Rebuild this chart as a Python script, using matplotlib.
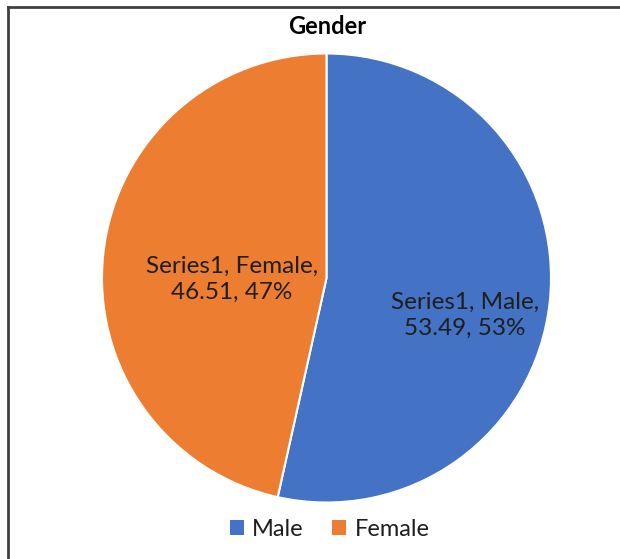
import matplotlib
matplotlib.use("Agg")
import matplotlib.pyplot as plt
from matplotlib.patches import Patch
from matplotlib.lines import Line2D

plt.rcParams['font.family'] = ['Lato', 'DejaVu Sans']

title = "Gender"
series_name = "Series1"
categories = ["Male", "Female"]
values = [53.49, 46.51]
colors = ["#4472C4", "#ED7D31"]

fig = plt.figure(figsize=(6.2, 5.59), dpi=100)
W, H = 620, 559
cx, cy, r = 326.5, 278, 224.5
ax = fig.add_axes([(cx - r) / W, (H - cy - r) / H, 2 * r / W, 2 * r / H])
wedges, _ = ax.pie(values, colors=colors, startangle=90, counterclock=False,
                   radius=1, wedgeprops=dict(edgecolor="white", linewidth=1.5))
ax.set_xlim(-1, 1)
ax.set_ylim(-1, 1)
ax.set_aspect("equal")
ax.axis("off")

total = sum(values)
label_pos = [(0.616, -0.165), (-0.421, -0.005)]
for cat, v, (x, y) in zip(categories, values, label_pos):
    pct = round(v / total * 100)
    ax.text(x, y, f"{series_name}, {cat},\n{v:.2f}, {pct}%", ha="center", va="center",
            fontsize=17.5, color="#1e1e1e", linespacing=1.3)

fig.text(0.527, 1 - 27 / H, title, ha="center", va="center", fontsize=17,
         fontweight="bold", color="black")

handles = [Patch(facecolor=c, edgecolor="none") for c in colors]
fig.legend(handles, categories, loc="center", bbox_to_anchor=(0.532, 1 - 529 / H),
           ncol=2, frameon=False, fontsize=17, handlelength=0.6, handleheight=0.6,
           handletextpad=0.35, columnspacing=1.2, labelcolor="#1e1e1e")

# outer frame (top and left visible)
fig.add_artist(Line2D([8 / W, 8 / W], [0, 1 - 7 / H], color="#404040", lw=2, transform=fig.transFigure))
fig.add_artist(Line2D([8 / W, 1], [1 - 7 / H, 1 - 7 / H], color="#404040", lw=2, transform=fig.transFigure))

fig.savefig("out.png", dpi=100, facecolor="white")
